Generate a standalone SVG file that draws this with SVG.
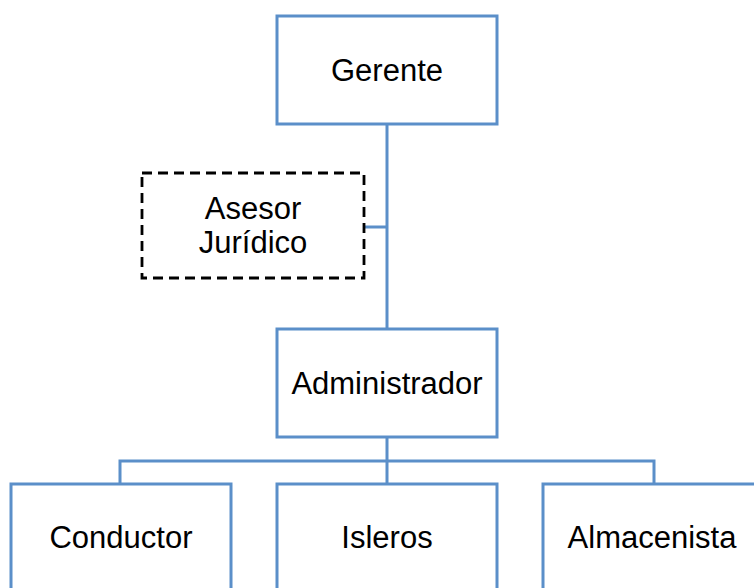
<svg xmlns="http://www.w3.org/2000/svg" width="754" height="588" viewBox="0 0 754 588">
<style>
.box{fill:#fff;stroke:#5B8FC9;stroke-width:3}
.dash{fill:#fff;stroke:#000;stroke-width:2.8;stroke-dasharray:10 6}
.conn{fill:none;stroke:#5B8FC9;stroke-width:3}
text{font-family:"Liberation Sans",Arial,sans-serif;font-size:31px;fill:#000;text-anchor:middle}
</style>
<rect width="754" height="588" fill="#fff"/>
<g id="connectors">
<path class="conn" d="M387 124V329"/>
<path class="conn" d="M364 227H387"/>
<path class="conn" d="M387 437V461M120 484V461H654V484M387 461V484"/>
</g>
<g id="gerente">
<rect class="box" x="277" y="16" width="220" height="108"/>
<text x="387" y="81">Gerente</text>
</g>
<g id="asesor">
<rect class="dash" x="142" y="173" width="222" height="105"/>
<text x="253" y="219">Asesor</text>
<text x="253" y="253">Jurídico</text>
</g>
<g id="administrador">
<rect class="box" x="277" y="329" width="220" height="108"/>
<text x="387" y="394">Administrador</text>
</g>
<g id="conductor">
<rect class="box" x="11" y="484" width="220" height="120"/>
<text x="121" y="548">Conductor</text>
</g>
<g id="isleros">
<rect class="box" x="277" y="484" width="220" height="120"/>
<text x="387" y="548">Isleros</text>
</g>
<g id="almacenista">
<rect class="box" x="543" y="484" width="230" height="120"/>
<text x="652" y="548">Almacenista</text>
</g>
</svg>
